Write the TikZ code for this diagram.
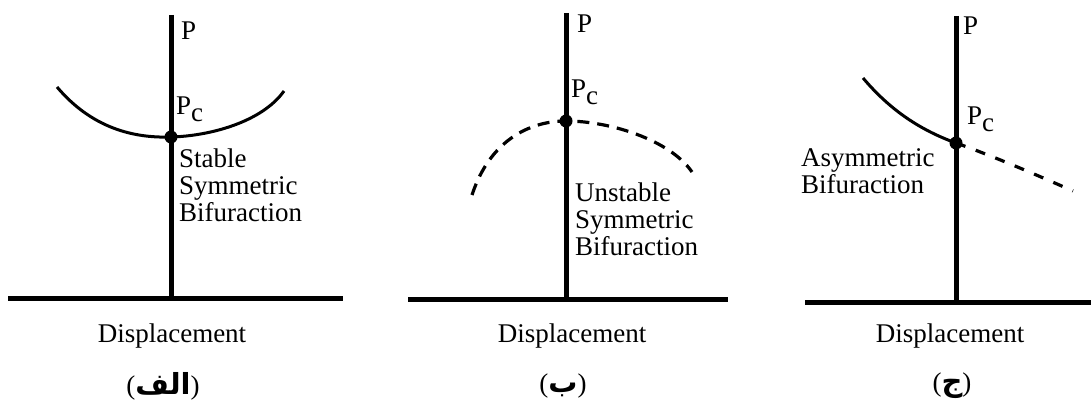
\documentclass[tikz,border=0pt]{standalone}
\usepackage{fontspec}
\setmainfont{Liberation Serif}
\newfontfamily\arabicfont[Script=Arabic]{DejaVu Sans}
\TeXXeTstate=1
\newcommand{\arlbl}[1]{(\hbox{\arabicfont\bfseries\fontsize{29}{29}\selectfont\beginR #1\endR})}
\begin{document}
\begin{tikzpicture}[x=1pt,y=-1pt,
  axis/.style={line width=5pt},
  curve/.style={line width=3pt},
  dcurve/.style={line width=3.2pt,dash pattern=on 12pt off 8pt},
  lbl/.style={inner sep=0pt,anchor=north west,font=\fontsize{27}{27}\selectfont,align=left},
  ctr/.style={inner sep=0pt,font=\fontsize{27}{27}\selectfont},
  dot/.style={circle,fill=black,inner sep=0pt,minimum size=13pt}]
\useasboundingbox (0,0) rectangle (1091,403);
% ---------- panel 1 ----------
\coordinate (a1t) at (171,15);
\coordinate (a1b) at (171,298);
\coordinate (a1l) at (8,298);
\coordinate (a1r) at (343,298);
\coordinate (c1l) at (57,87);
\coordinate (c1r) at (284,91);
\node[dot] (d1) at (171,137) {};
\draw[axis] (a1t) -- (a1b);
\draw[axis] (a1l) -- (a1r);
\draw[curve] (c1l) .. controls (95,132) and (140,138) .. (d1.center) .. controls (210,136) and (262,122) .. (c1r);
\node[lbl] (p1) at (181,22) {P};
\node[lbl] (pc1) at (176,97) {P\raisebox{-7pt}{c}};
\node[lbl] (t1) at (179,149) {Stable\\Symmetric\\Bifuraction};
\node[ctr] (x1) at (172,336) {Displacement};
\node[ctr] (f1) at (163,386) {\arlbl{الف}};
% ---------- panel 2 ----------
\coordinate (a2t) at (566,13);
\coordinate (a2b) at (566,299);
\coordinate (a2l) at (408,299);
\coordinate (a2r) at (728,299);
\coordinate (c2l) at (472,195);
\coordinate (c2r) at (692,172);
\node[dot] (d2) at (566,121) {};
\draw[axis] (a2t) -- (a2b);
\draw[axis] (a2l) -- (a2r);
\draw[dcurve] (c2l) .. controls (490,140) and (530,121) .. (d2.center) .. controls (610,121) and (670,140) .. (c2r);
\node[lbl] (p2) at (577,15) {P};
\node[lbl] (pc2) at (571,80) {P\raisebox{-7pt}{c}};
\node[lbl] (t2) at (575,183) {Unstable\\Symmetric\\Bifuraction};
\node[ctr] (x2) at (572,336) {Displacement};
\node[ctr] (f2) at (563,386) {\arlbl{ب}};
% ---------- panel 3 ----------
\coordinate (a3t) at (956,16);
\coordinate (a3b) at (956,302);
\coordinate (a3l) at (805,302);
\coordinate (a3r) at (1091,302);
\coordinate (c3l) at (863,78);
\coordinate (c3r) at (1073,191);
\node[dot] (d3) at (956,143) {};
\draw[axis] (a3t) -- (a3b);
\draw[axis] (a3l) -- (a3r);
\draw[curve] (c3l) .. controls (890,110) and (920,130) .. (d3.center);
\draw[line width=3.2pt,dash pattern=on 10pt off 11pt] (d3.center) .. controls (990,155) and (1030,172) .. (c3r);
\node[lbl] (p3) at (963,17) {P};
\node[lbl] (pc3) at (967,107) {P\raisebox{-7pt}{c}};
\node[lbl] (t3) at (801,148) {Asymmetric\\Bifuraction};
\node[ctr] (x3) at (950,336) {Displacement};
\node[ctr] (f3) at (952,386) {\arlbl{ج}};
\end{tikzpicture}
\end{document}
